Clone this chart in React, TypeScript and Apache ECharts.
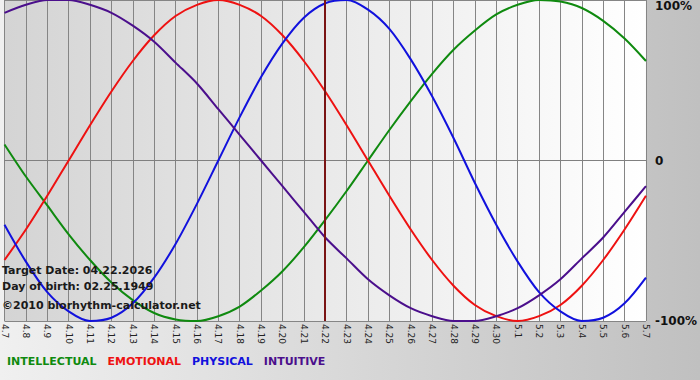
import React, { useEffect, useRef } from "react";
import * as echarts from "echarts";

const categories = [
  "4.7", "4.8", "4.9", "4.10", "4.11", "4.12", "4.13", "4.14", "4.15", "4.16",
  "4.17", "4.18", "4.19", "4.20", "4.21", "4.22", "4.23", "4.24", "4.25", "4.26",
  "4.27", "4.28", "4.29", "4.30", "5.1", "5.2", "5.3", "5.4", "5.5", "5.6", "5.7",
];

const physical = [
  -0.40, -0.63, -0.82, -0.94, -1.00, -0.98, -0.89, -0.73, -0.52, -0.27,
  0.00, 0.27, 0.52, 0.73, 0.89, 0.98, 1.00, 0.94, 0.82, 0.63,
  0.40, 0.14, -0.14, -0.40, -0.63, -0.82, -0.94, -1.00, -0.98, -0.89, -0.73,
];

const emotional = [
  -0.62, -0.43, -0.22, 0.00, 0.22, 0.43, 0.62, 0.78, 0.90, 0.97,
  1.00, 0.97, 0.90, 0.78, 0.62, 0.43, 0.22, 0.00, -0.22, -0.43,
  -0.62, -0.78, -0.90, -0.97, -1.00, -0.97, -0.90, -0.78, -0.62, -0.43, -0.22,
];

const intellectual = [
  0.10, -0.10, -0.28, -0.46, -0.62, -0.76, -0.87, -0.95, -0.99, -1.00,
  -0.97, -0.91, -0.81, -0.69, -0.54, -0.37, -0.19, 0.00, 0.19, 0.37,
  0.54, 0.69, 0.81, 0.91, 0.97, 1.00, 0.99, 0.95, 0.87, 0.76, 0.62,
];

const intuitive = [
  0.92, 0.97, 1.00, 1.00, 0.97, 0.92, 0.84, 0.74, 0.61, 0.48,
  0.32, 0.16, 0.00, -0.16, -0.32, -0.48, -0.61, -0.74, -0.84, -0.92,
  -0.97, -1.00, -1.00, -0.97, -0.92, -0.84, -0.74, -0.61, -0.48, -0.32, -0.16,
];

const seriesNames = ["INTELLECTUAL", "EMOTIONAL", "PHYSICAL", "INTUITIVE"];
const seriesColors = ["#0f8a0f", "#ee1111", "#1111dd", "#4b0f8c"];
const yTickLabels: Record<string, string> = { "-1": "-100%", "0": "0", "1": "100%" };
const targetDay = "4.22";
const infoLines = [
  "Target Date: 04.22.2026",
  "Day of birth: 02.25.1949",
  "©2010 biorhythm-calculator.net",
];

export default function App() {
  const ref = useRef<HTMLDivElement>(null);
  useEffect(() => {
    if (!ref.current) return;
    const chart = echarts.init(ref.current, null, { renderer: "svg" });
    const dataSets = [intellectual, emotional, physical, intuitive];
    const font = "DejaVu Sans";
    chart.setOption({
      animation: false,
      backgroundColor: "transparent",
      grid: {
        left: 0,
        right: 50,
        top: 0,
        bottom: 59,
        show: true,
        borderWidth: 0,
        backgroundColor: new echarts.graphic.LinearGradient(0, 0, 1, 0, [
          { offset: 0, color: "#d4d4d4" },
          { offset: 1, color: "#ffffff" },
        ]),
      },
      legend: {
        left: -3,
        top: 351,
        icon: "none",
        itemWidth: 0,
        itemHeight: 0,
        itemGap: 6,
        selectedMode: false,
        textStyle: { fontFamily: font, fontWeight: "bold", fontSize: 11 },
        data: seriesNames.map((n, i) => ({ name: n, textStyle: { color: seriesColors[i] } })),
      },
      xAxis: {
        type: "category",
        data: categories,
        boundaryGap: false,
        axisLine: { show: true, lineStyle: { color: "#808080", width: 1 } },
        axisTick: { show: true, length: 3, lineStyle: { color: "#808080" } },
        axisLabel: {
          interval: 0,
          rotate: -90,
          margin: 3,
          fontFamily: font,
          fontSize: 9,
          color: "#222",
        },
        splitLine: { show: true, lineStyle: { color: "#858585", width: 1 } },
      },
      yAxis: {
        type: "value",
        position: "right",
        min: -1,
        max: 1,
        interval: 1,
        axisLine: { show: false },
        axisTick: { show: false },
        axisLabel: {
          margin: 9,
          fontFamily: font,
          fontSize: 12,
          fontWeight: "bold",
          color: "#111",
          formatter: (v: number) => yTickLabels[String(v)] ?? String(v),
          verticalAlignMaxLabel: "top",
        },
        splitLine: { show: true, lineStyle: { color: "#858585", width: 1 } },
      },
      series: seriesNames.map((n, i) => ({
        name: n,
        type: "line",
        data: dataSets[i],
        smooth: 0.3,
        symbol: "none",
        lineStyle: { color: seriesColors[i], width: 2 },
        itemStyle: { color: seriesColors[i] },
        markLine:
          i === 0
            ? {
                silent: true,
                symbol: ["none", "none"],
                label: { show: false },
                lineStyle: { color: "#7a1414", width: 2, type: "solid" },
                data: [{ xAxis: targetDay }],
              }
            : undefined,
      })),
      graphic: infoLines.map((t, i) => ({
        type: "text",
        left: 2,
        top: [265, 281, 300][i],
        z: 100,
        style: {
          text: t,
          fill: "#1a1a1a",
          font: `bold 11px "${font}"`,
        },
      })),
    });
    return () => chart.dispose();
  }, []);
  return (
    <div
      ref={ref}
      style={{
        position: "fixed",
        left: 0,
        top: 0,
        width: 700,
        height: 380,
        background: "linear-gradient(to right, #f0f0f0, #c0c0c0)",
      }}
    />
  );
}
